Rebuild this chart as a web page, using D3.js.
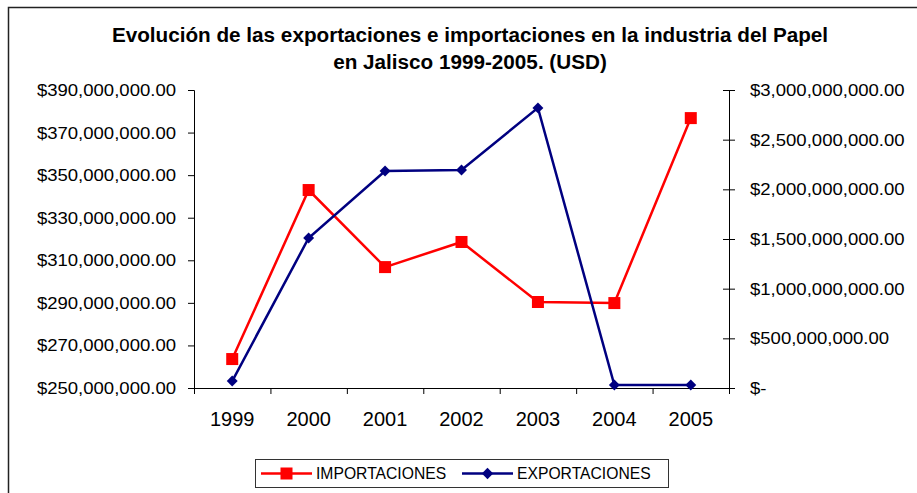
<!DOCTYPE html>
<html>
<head>
<meta charset="utf-8">
<script src="https://cdn.jsdelivr.net/npm/d3@7/dist/d3.min.js"></script>
<style>
  html, body { margin: 0; padding: 0; background: #fff; }
  svg { display: block; font-family: "Liberation Sans", Arial, sans-serif; }
</style>
</head>
<body>
<svg id="chart" width="917" height="493"></svg>
<script>
const years = ["1999", "2000", "2001", "2002", "2003", "2004", "2005"];
// left axis (USD)
const importaciones = [263.6e6, 343e6, 306.8e6, 318.6e6, 290.4e6, 289.9e6, 376.8e6];
// right axis (USD)
const exportaciones = [0.07e9, 1.51e9, 2.185e9, 2.195e9, 2.82e9, 0.03e9, 0.03e9];
const leftTicks = [250e6, 270e6, 290e6, 310e6, 330e6, 350e6, 370e6, 390e6];
const rightTicks = [0, 0.5e9, 1e9, 1.5e9, 2e9, 2.5e9, 3e9];
const titleLines = [
  "Evolución de las exportaciones e importaciones en la industria del Papel",
  "en Jalisco 1999-2005. (USD)"
];

const svg = d3.select("#chart");
const plot = { left: 194, right: 729, top: 90, bottom: 388 };

const money = d3.format("$,.2f");
const moneyRight = (d) => (d === 0 ? "$-" : money(d));

// the original text is drawn a little wider than Arial
function stretch(sel, k) {
  sel.each(function () {
    const w = this.getComputedTextLength();
    d3.select(this).attr("textLength", w * k).attr("lengthAdjust", "spacingAndGlyphs");
  });
}

// frame
svg.append("rect")
  .attr("x", 8.5).attr("y", 7.5)
  .attr("width", 1000).attr("height", 1000)
  .attr("fill", "none").attr("stroke", "#222").attr("stroke-width", 1.5);

// title
svg.append("g")
  .selectAll("text")
  .data(titleLines)
  .join("text")
  .attr("x", 470)
  .attr("y", (d, i) => 42 + i * 27)
  .attr("text-anchor", "middle")
  .attr("font-size", 20.7)
  .attr("font-weight", "bold")
  .text((d) => d);

const x = d3.scaleBand().domain(years).range([plot.left, plot.right]).padding(0);
const xEdges = d3.scaleLinear().domain([0, years.length]).range([plot.left, plot.right]);
const yLeft = d3.scaleLinear().domain([250e6, 390e6]).range([plot.bottom, plot.top]);
const yRight = d3.scaleLinear().domain([0, 3e9]).range([plot.bottom, plot.top]);

// left axis
svg.append("g")
  .attr("transform", `translate(${plot.left},0)`)
  .call(d3.axisLeft(yLeft).tickValues(leftTicks).tickFormat(money).tickSize(6).tickPadding(12))
  .call((g) => {
    g.selectAll("text").attr("font-size", 17).attr("font-family", null).attr("fill", "#000")
      .call(stretch, 1.09);
    g.selectAll("line, path").attr("stroke", "#000");
  });

// right axis
svg.append("g")
  .attr("transform", `translate(${plot.right},0)`)
  .call(d3.axisRight(yRight).tickValues(rightTicks).tickFormat(moneyRight).tickSize(6).tickPadding(15))
  .call((g) => {
    g.selectAll(".tick line").attr("x1", -6);
    g.selectAll("text").attr("font-size", 17).attr("font-family", null).attr("fill", "#000")
      .call(stretch, 1.09);
    g.selectAll("line, path").attr("stroke", "#000");
  });

// bottom axis: boundary ticks
svg.append("g")
  .attr("transform", `translate(0,${plot.bottom})`)
  .call(d3.axisBottom(xEdges).tickValues(d3.range(years.length + 1)).tickFormat("").tickSize(6).tickSizeOuter(0))
  .call((g) => {
    g.selectAll("line, path").attr("stroke", "#000");
  });

// bottom axis: labels
svg.append("g")
  .attr("transform", `translate(0,${plot.bottom})`)
  .call(d3.axisBottom(x).tickSize(0).tickPadding(24))
  .call((g) => {
    g.select(".domain").remove();
    g.selectAll("text").attr("font-size", 20).attr("font-family", null).attr("fill", "#000");
  });

const cx = (d, i) => x(years[i]) + x.bandwidth() / 2;

// importaciones
svg.append("path")
  .datum(importaciones)
  .attr("fill", "none")
  .attr("stroke", "#ff0000")
  .attr("stroke-width", 2.5)
  .attr("d", d3.line().x(cx).y((d) => yLeft(d)));

svg.append("g")
  .selectAll("rect")
  .data(importaciones)
  .join("rect")
  .attr("x", (d, i) => cx(d, i) - 6)
  .attr("y", (d) => yLeft(d) - 6)
  .attr("width", 12)
  .attr("height", 12)
  .attr("fill", "#ff0000");

// exportaciones
svg.append("path")
  .datum(exportaciones)
  .attr("fill", "none")
  .attr("stroke", "#000080")
  .attr("stroke-width", 2.5)
  .attr("d", d3.line().x(cx).y((d) => yRight(d)));

svg.append("g")
  .selectAll("path")
  .data(exportaciones)
  .join("path")
  .attr("transform", (d, i) => `translate(${cx(d, i)},${yRight(d)}) rotate(45)`)
  .attr("d", d3.symbol().type(d3.symbolSquare).size(60))
  .attr("fill", "#000080");

// legend
const legend = svg.append("g");
legend.append("rect")
  .attr("x", 255.5).attr("y", 459.5)
  .attr("width", 413).attr("height", 28)
  .attr("fill", "#fff").attr("stroke", "#333").attr("stroke-width", 1);

const items = [
  { name: "IMPORTACIONES", color: "#ff0000", shape: "square", x0: 261 },
  { name: "EXPORTACIONES", color: "#000080", shape: "diamond", x0: 462 }
];
const ly = 473.5;
items.forEach((it) => {
  legend.append("line")
    .attr("x1", it.x0).attr("x2", it.x0 + 51)
    .attr("y1", ly).attr("y2", ly)
    .attr("stroke", it.color).attr("stroke-width", 2.5);
  if (it.shape === "square") {
    legend.append("rect")
      .attr("x", it.x0 + 25.5 - 6).attr("y", ly - 6)
      .attr("width", 12).attr("height", 12)
      .attr("fill", it.color);
  } else {
    legend.append("path")
      .attr("transform", `translate(${it.x0 + 25.5},${ly}) rotate(45)`)
      .attr("d", d3.symbol().type(d3.symbolSquare).size(64))
      .attr("fill", it.color);
  }
  legend.append("text")
    .attr("x", it.x0 + 55)
    .attr("y", ly)
    .attr("dy", "0.36em")
    .attr("font-size", 15.7)
    .text(it.name);
});
</script>
</body>
</html>
